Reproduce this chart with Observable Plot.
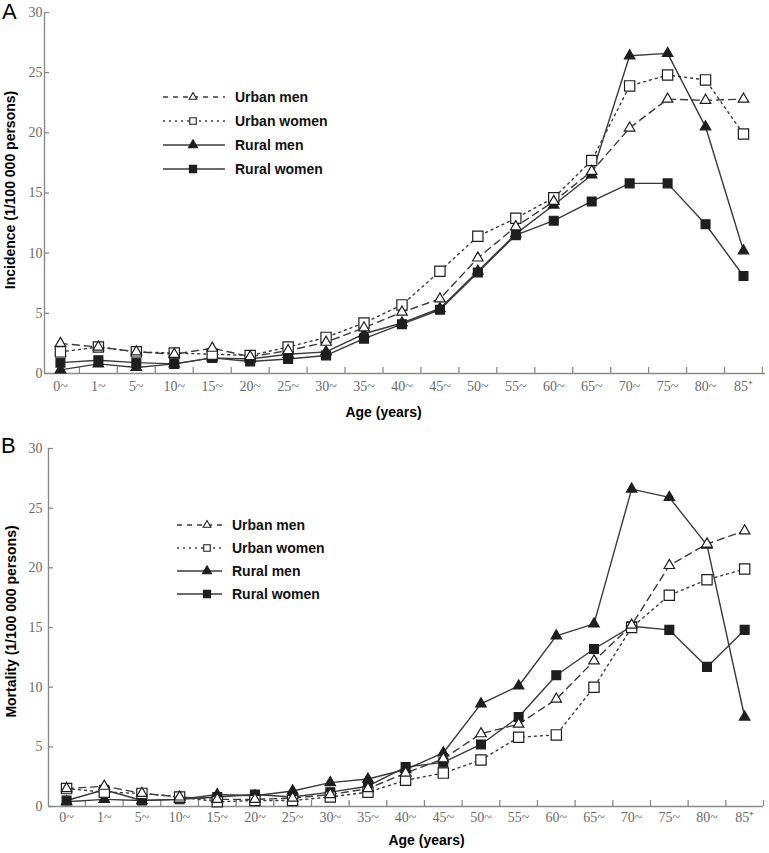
<!DOCTYPE html>
<html>
<head>
<meta charset="utf-8">
<script src="https://cdn.jsdelivr.net/npm/d3@7"></script>
<script src="https://cdn.jsdelivr.net/npm/@observablehq/plot@0.6"></script>
<style>
  body { margin: 0; background: #fff; }
  #wrap { width: 769px; }
  #wrap svg { display: block; }
</style>
</head>
<body>
<div id="wrap"></div>
<script>
// ---- data ----
const ageGroups = ["0~","1~","5~","10~","15~","20~","25~","30~","35~","40~","45~","50~","55~","60~","65~","70~","75~","80~","85\u207A"];
const seriesNames = ["Urban men","Urban women","Rural men","Rural women"];
const yTicks = [0, 5, 10, 15, 20, 25, 30];

// Panel A: incidence (1/100 000 persons)
const incUrbanMen   = [2.5, 2.2, 1.8, 1.6, 2.1, 1.4, 1.9, 2.6, 3.8, 5.1, 6.2, 9.6, 12.2, 14.3, 16.8, 20.4, 22.8, 22.7, 22.8];
const incUrbanWomen = [1.8, 2.2, 1.8, 1.7, 1.6, 1.5, 2.2, 3.0, 4.2, 5.7, 8.5, 11.4, 12.9, 14.6, 17.7, 23.9, 24.8, 24.4, 19.9];
const incRuralMen   = [0.3, 0.8, 0.5, 0.8, 1.3, 1.2, 1.6, 1.8, 3.3, 4.2, 5.4, 8.5, 11.6, 14.0, 16.5, 26.4, 26.6, 20.5, 10.2];
const incRuralWomen = [0.9, 1.1, 0.9, 0.8, 1.3, 1.0, 1.2, 1.5, 2.9, 4.1, 5.3, 8.4, 11.5, 12.7, 14.3, 15.8, 15.8, 12.4, 8.1];

// Panel B: mortality (1/100 000 persons)
const morUrbanMen   = [1.5, 1.7, 1.1, 0.8, 0.6, 0.6, 0.7, 1.0, 1.5, 2.8, 4.0, 6.1, 6.9, 9.0, 12.2, 15.2, 20.2, 22.0, 23.1];
const morUrbanWomen = [1.5, 1.2, 1.1, 0.8, 0.4, 0.5, 0.5, 0.8, 1.2, 2.2, 2.8, 3.9, 5.8, 6.0, 10.0, 15.0, 17.7, 19.0, 19.9];
const morRuralMen   = [0.4, 0.6, 0.5, 0.6, 1.0, 0.9, 1.3, 2.0, 2.3, 3.1, 4.5, 8.6, 10.1, 14.3, 15.3, 26.6, 25.9, 21.9, 7.5];
const morRuralWomen = [0.5, 1.4, 0.5, 0.6, 0.8, 1.0, 0.8, 1.2, 1.7, 3.3, 3.7, 5.2, 7.5, 11.0, 13.2, 15.1, 14.8, 11.7, 14.8];

// ---- styles ----
const SANS = "'Liberation Sans', Arial, Helvetica, sans-serif";
const SERIF = "'Liberation Serif', 'Times New Roman', serif";
const axisColor = "#8a8a8a";
const tickTextColor = "#6a6a6a";
const lineColor = "#3a3a3a";
const markColor = "#1e1e1e";
const styles = [
  {dash: "7,5", symbol: "triangle", fill: "white", r: 3.9, legendSym: d3.symbolTriangle, legendSize: 26},
  {dash: "2,4", symbol: "square", fill: "white", r: 5.8, legendSym: d3.symbolSquare, legendSize: 42},
  {dash: null, symbol: "triangle", fill: markColor, r: 3.9, legendSym: d3.symbolTriangle, legendSize: 36},
  {dash: null, symbol: "square", fill: markColor, r: 5.0, legendSym: d3.symbolSquare, legendSize: 52}
];

function panel(cfg) {
  const idx = ageGroups.map((_, i) => i);
  const bounds = idx.map(i => i + 0.5);
  const marks = [];
  // axis spines
  marks.push(Plot.ruleX([cfg.xDomain[0]], {stroke: axisColor, strokeWidth: 1.4}));
  marks.push(Plot.ruleY([0], {stroke: axisColor, strokeWidth: 1.4}));
  // y axis: inward ticks
  marks.push(Plot.axisY({ticks: yTicks, tickSize: -5, tickPadding: cfg.yPad, fontFamily: SERIF, fontSize: 14,
    color: tickTextColor, stroke: axisColor, strokeWidth: 1.3, label: null}));
  // x axis: inward ticks at group boundaries
  marks.push(Plot.axisX({ticks: bounds, tickSize: -6, tickFormat: () => "", stroke: axisColor, strokeWidth: 1.3, label: null}));
  // x axis labels at group centres
  marks.push(Plot.axisX({ticks: idx, tickSize: 0, tickPadding: cfg.xPad, tickFormat: i => ageGroups[i],
    fontFamily: SERIF, fontSize: 14, color: tickTextColor, label: null}));
  // series
  const data = cfg.values.map((vals, k) => vals.map((v, i) => ({s: seriesNames[k], i, v})));
  data.forEach((rows, k) => {
    marks.push(Plot.line(rows, {x: "i", y: "v", stroke: lineColor, strokeWidth: 1.4,
      strokeDasharray: styles[k].dash}));
  });
  [3, 2, 1, 0].forEach(k => {
    marks.push(Plot.dot(data[k], {x: "i", y: "v", symbol: styles[k].symbol, r: styles[k].r,
      fill: styles[k].fill, stroke: markColor, strokeWidth: 1.2}));
  });
  // axis titles
  marks.push(Plot.text([cfg.yLabel], {text: d => d, frameAnchor: "left", dx: cfg.yTitleDx, dy: cfg.yTitleDy, rotate: -90,
    textAnchor: "middle", lineAnchor: "middle", fontFamily: SANS, fontWeight: "bold", fontSize: 14, fill: "black"}));
  marks.push(Plot.text(["Age (years)"], {text: d => d, frameAnchor: "bottom", dx: cfg.xTitleDx, dy: cfg.xTitleDy,
    textAnchor: "middle", lineAnchor: "middle", fontFamily: SANS, fontWeight: "bold", fontSize: 14, fill: "black"}));

  const chart = Plot.plot({
    width: 769,
    height: cfg.height,
    marginTop: cfg.marginTop,
    marginBottom: cfg.marginBottom,
    marginLeft: cfg.marginLeft,
    marginRight: cfg.marginRight,
    x: {type: "linear", domain: cfg.xDomain},
    y: {domain: [0, 30]},
    style: {background: "white", overflow: "visible"},
    marks
  });

  const svg = d3.select(chart);
  // panel letter
  svg.append("text").attr("x", cfg.letterX).attr("y", cfg.letterY).text(cfg.letter)
    .attr("text-anchor", "start")
    .attr("font-family", SANS).attr("font-size", 22).attr("fill", "black");
  // legend
  const L = cfg.legend;
  const g = svg.append("g").attr("text-anchor", "start");
  seriesNames.forEach((name, k) => {
    const y = L.y0 + k * L.gap;
    g.append("line").attr("x1", L.x1).attr("x2", L.x2).attr("y1", y).attr("y2", y)
      .attr("stroke", lineColor).attr("stroke-width", 1.4)
      .attr("stroke-dasharray", k === 0 ? "5,5" : k === 1 ? "2,4" : null);
    g.append("path").attr("d", d3.symbol(styles[k].legendSym, styles[k].legendSize)())
      .attr("transform", `translate(${L.xm},${y})`)
      .attr("fill", styles[k].fill).attr("stroke", markColor).attr("stroke-width", 1.1);
    g.append("text").attr("x", L.xt).attr("y", y).attr("dy", "0.35em").text(name)
      .attr("text-anchor", "start")
      .attr("font-family", SANS).attr("font-weight", "bold").attr("font-size", 14).attr("fill", "#111");
  });
  return chart;
}

const wrap = document.getElementById("wrap");
wrap.appendChild(panel({
  letter: "A", letterX: 2, letterY: 19,
  values: [incUrbanMen, incUrbanWomen, incRuralMen, incRuralWomen],
  yLabel: "Incidence (1/100 000 persons)",
  height: 420, marginTop: 12, marginBottom: 47, marginLeft: 44, marginRight: 4,
  xDomain: [-0.42, 18.58], yPad: 7, xPad: 8,
  yTitleDx: -34, yTitleDy: -3, xTitleDx: -21.5, xTitleDy: 39,
  legend: {x1: 163, x2: 225, xm: 193, xt: 235, y0: 97, gap: 24}
}));
wrap.appendChild(panel({
  letter: "B", letterX: 1, letterY: 33,
  values: [morUrbanMen, morUrbanWomen, morRuralMen, morRuralWomen],
  yLabel: "Mortality (1/100 000 persons)",
  height: 433, marginTop: 28, marginBottom: 47, marginLeft: 48, marginRight: 6,
  xDomain: [-0.48, 18.5], yPad: 11, xPad: 6,
  yTitleDx: -37, yTitleDy: -6, xTitleDx: 20.5, xTitleDy: 34,
  legend: {x1: 177, x2: 222, xm: 207, xt: 232, y0: 105, gap: 23}
}));
</script>
</body>
</html>
